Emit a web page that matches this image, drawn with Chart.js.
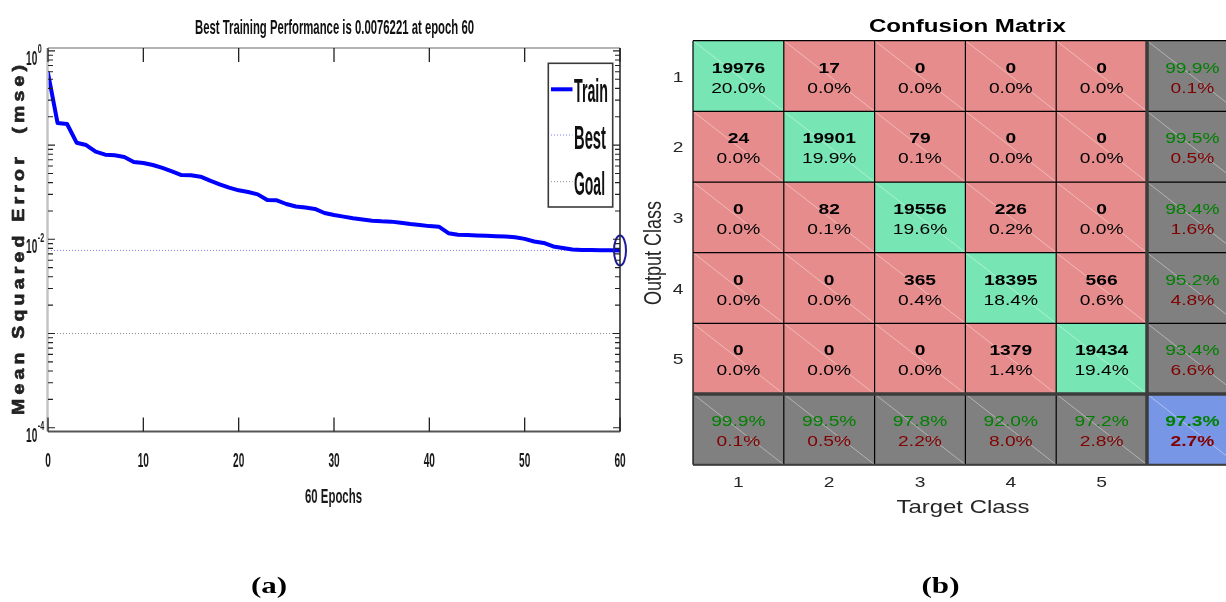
<!DOCTYPE html>
<html>
<head>
<meta charset="utf-8">
<script src="https://cdn.jsdelivr.net/npm/chart.js@4.4.0/dist/chart.umd.min.js"></script>
<style>
  html, body { margin: 0; padding: 0; background: #fff; overflow: hidden; width: 1226px; height: 602px; }
  #perf { position: absolute; left: 0; top: 0; }
  #conf { position: absolute; left: 630px; top: 0; }
</style>
</head>
<body>
<canvas id="perf" width="640" height="602"></canvas>
<canvas id="conf" width="620" height="602"></canvas>
<script>
// ---------- (a) training record ----------
const epochs = [0,1,2,3,4,5,6,7,8,9,10,11,12,13,14,15,16,17,18,19,20,21,22,23,24,25,26,27,28,29,
                30,31,32,33,34,35,36,37,38,39,40,41,42,43,44,45,46,47,48,49,50,51,52,53,54,55,56,57,58,59,60];
const trainMSE = [0.582, 0.1717, 0.1675, 0.106, 0.1002, 0.0851, 0.0791, 0.0779, 0.0748, 0.0662,
                  0.0646, 0.0615, 0.0572, 0.0527, 0.0481, 0.0478, 0.0462, 0.0419, 0.0384, 0.0353,
                  0.0331, 0.0318, 0.0300, 0.0261, 0.0259, 0.0237, 0.0223, 0.0218, 0.0210, 0.0190,
                  0.0181, 0.0174, 0.0167, 0.0162, 0.0157, 0.0155, 0.0154, 0.0150, 0.0145, 0.0142,
                  0.0138, 0.0136, 0.0116, 0.0112, 0.0111, 0.0110, 0.0109, 0.0108, 0.0107, 0.0105,
                  0.0101, 0.00948, 0.00914, 0.00839, 0.00809, 0.00780, 0.00772, 0.00768, 0.00765, 0.00763,
                  0.0076221];
const bestMSE = 0.0076221;
const bestEpoch = 60;
const goalMSE = 0.001;
const epochTicks = [0, 10, 20, 30, 40, 50, 60];
const labelledDecades = [0, -2, -4];
const legendNames = ['Train', 'Best', 'Goal'];

// ---------- (b) confusion matrix ----------
const targetClasses = ['1', '2', '3', '4', '5'];
const outputClasses = ['1', '2', '3', '4', '5'];
const counts = [
  [19976,    17,     0,     0,     0],
  [   24, 19901,    79,     0,     0],
  [    0,    82, 19556,   226,     0],
  [    0,     0,   365, 18395,   566],
  [    0,     0,     0,  1379, 19434]
];

// ---------- shared text helper ----------
function txt(ctx, s, x, y, o) {
  ctx.save();
  ctx.translate(x, y);
  if (o.rot) ctx.rotate(o.rot);
  ctx.font = o.font;
  let sx = o.sx || 1;
  if (o.width) sx = o.width / ctx.measureText(s).width;
  ctx.scale(sx, o.sy || 1);
  ctx.fillStyle = o.color || '#000';
  ctx.textAlign = o.align || 'center';
  ctx.textBaseline = 'alphabetic';
  ctx.fillText(s, 0, 0);
  ctx.restore();
}

// text spread evenly along a given length, one glyph at a time
function spreadText(ctx, s, x, y, len, o) {
  ctx.save();
  ctx.translate(x, y);
  if (o.rot) ctx.rotate(o.rot);
  ctx.font = o.font;
  ctx.fillStyle = o.color || '#000';
  ctx.strokeStyle = o.color || '#000';
  ctx.lineWidth = o.thick || 0;
  ctx.lineJoin = 'round';
  ctx.textAlign = 'left';
  ctx.textBaseline = 'alphabetic';
  const k = o.k || 1;
  const ws = [...s].map(c => ctx.measureText(c).width * k);
  const total = ws.reduce((p, q) => p + q, 0);
  const gap = (len - total) / (s.length - 1);
  let pos = -len / 2;
  [...s].forEach((c, i) => {
    ctx.save();
    ctx.translate(pos, 0);
    ctx.scale(k, 1);
    ctx.fillText(c, 0, 0);
    if (o.thick) ctx.strokeText(c, 0, 0);
    ctx.restore();
    pos += ws[i] + gap;
  });
  ctx.restore();
}

const SANS = '"Liberation Sans", Arial, sans-serif';
const SERIF = '"Liberation Serif", "Times New Roman", serif';

// ---------- (a) decorations: frame, ticks, labels, legend ----------
const perfDecor = {
  id: 'perfDecor',
  afterDraw(chart) {
    const { ctx, chartArea: a, scales: { x, y } } = chart;
    ctx.save();

    // best-epoch marker
    ctx.strokeStyle = '#1c1c9c';
    ctx.lineWidth = 2;
    ctx.beginPath();
    ctx.ellipse(x.getPixelForValue(bestEpoch), y.getPixelForValue(bestMSE), 6, 15, 0, 0, Math.PI * 2);
    ctx.stroke();

    // frame
    ctx.lineWidth = 1.5;
    ctx.strokeStyle = '#9a9a9a';
    ctx.beginPath(); ctx.moveTo(a.left, a.top); ctx.lineTo(a.right, a.top); ctx.stroke();
    ctx.strokeStyle = '#c4c4c4'; ctx.lineWidth = 2.5;
    ctx.beginPath(); ctx.moveTo(a.left - 0.5, a.top); ctx.lineTo(a.left - 0.5, a.bottom); ctx.stroke();
    ctx.strokeStyle = '#222'; ctx.lineWidth = 1.5;
    ctx.beginPath(); ctx.moveTo(a.right, a.top); ctx.lineTo(a.right, a.bottom); ctx.stroke();
    ctx.strokeStyle = '#555'; ctx.lineWidth = 2;
    ctx.beginPath(); ctx.moveTo(a.left, a.bottom); ctx.lineTo(a.right, a.bottom); ctx.stroke();

    // x ticks (inward, top and bottom) and labels
    ctx.strokeStyle = '#222'; ctx.lineWidth = 1.3;
    epochTicks.forEach(t => {
      const px = x.getPixelForValue(t);
      ctx.beginPath();
      ctx.moveTo(px, a.bottom); ctx.lineTo(px, a.bottom - 14);
      ctx.moveTo(px, a.top); ctx.lineTo(px, a.top + 14);
      ctx.stroke();
      txt(ctx, String(t), px, 466.5, { font: 'bold 21px ' + SANS, sx: 0.48, color: '#1a1a1a' });
    });

    // y ticks: minor at n*10^k, major at decades
    ctx.lineWidth = 1.1;
    for (let k = -4; k <= 0; k++) {
      for (let m = 1; m <= 9; m++) {
        const v = m * Math.pow(10, k);
        if (v < y.min || v > y.max) continue;
        const py = y.getPixelForValue(v);
        const len = m === 1 ? 7 : 5;
        ctx.beginPath();
        ctx.moveTo(a.left, py); ctx.lineTo(a.left + len, py);
        ctx.moveTo(a.right, py); ctx.lineTo(a.right - len, py);
        ctx.stroke();
      }
    }
    labelledDecades.forEach(k => {
      const py = y.getPixelForValue(Math.pow(10, k));
      txt(ctx, '10', 37.3, py + 14, { font: 'bold 21px ' + SANS, sx: 0.48, color: '#1a1a1a', align: 'right' });
      txt(ctx, String(k), 37.8, py + 2.5, { font: 'bold 13px ' + SANS, sx: 0.55, color: '#1a1a1a', align: 'left' });
    });

    // axis titles
    txt(ctx, `Best Training Performance is ${bestMSE} at epoch ${bestEpoch}`, (a.left + a.right) / 2 + 0.5, 34.3,
        { font: 'bold 21px ' + SANS, width: 279, color: '#111' });
    txt(ctx, `${epochs.length - 1} Epochs`, (a.left + a.right) / 2 - 0.5, 503.3,
        { font: 'bold 21px ' + SANS, width: 57, color: '#1a1a1a' });
    spreadText(ctx, 'Mean Squared Error  (mse)', 23.5, 240, 350,
        { font: 'bold 16.5px ' + SANS, rot: -Math.PI / 2, k: 1.18, thick: 0.7, color: '#222' });

    // legend
    const L = { x: 548.3, y: 63.3, w: 64.4, h: 143.7 };
    ctx.fillStyle = '#fff';
    ctx.fillRect(L.x, L.y, L.w, L.h);
    ctx.strokeStyle = '#3a3a3a'; ctx.lineWidth = 1.6;
    ctx.strokeRect(L.x, L.y, L.w, L.h);
    const rows = [
      { y: 89.3, base: 101.7, color: '#0000ff', lw: 4, dash: [], w: 34 },
      { y: 135, base: 149, color: '#7a7aff', lw: 1, dash: [1, 2], w: 32 },
      { y: 181.7, base: 195, color: '#8a8a8a', lw: 1, dash: [1, 2], w: 31 }
    ];
    rows.forEach((r, i) => {
      ctx.save();
      ctx.strokeStyle = r.color; ctx.lineWidth = r.lw; ctx.setLineDash(r.dash);
      ctx.beginPath(); ctx.moveTo(551, r.y); ctx.lineTo(572.5, r.y); ctx.stroke();
      ctx.restore();
      txt(ctx, legendNames[i], 574 + r.w / 2, r.base, { font: 'bold 33px ' + SANS, width: r.w, color: '#111' });
    });

    // panel tag
    txt(ctx, '(a)', 269, 593, { font: 'bold 23px ' + SERIF, sx: 1.35, color: '#000' });
    ctx.restore();
  }
};

new Chart(document.getElementById('perf'), {
  type: 'line',
  data: {
    datasets: [
      {
        label: legendNames[0],
        data: epochs.map((e, i) => ({ x: e, y: trainMSE[i] })),
        borderColor: '#0000ff', borderWidth: 4, pointRadius: 0,
        borderCapStyle: 'round', borderJoinStyle: 'round', tension: 0
      },
      {
        label: legendNames[1],
        data: [{ x: epochs[0], y: bestMSE }, { x: epochs[epochs.length - 1], y: bestMSE }],
        borderColor: '#7a7aff', borderWidth: 1, borderDash: [1, 2], pointRadius: 0
      },
      {
        label: legendNames[2],
        data: [{ x: epochs[0], y: goalMSE }, { x: epochs[epochs.length - 1], y: goalMSE }],
        borderColor: '#8a8a8a', borderWidth: 1, borderDash: [1, 2], pointRadius: 0
      }
    ]
  },
  options: {
    responsive: false,
    animation: false,
    events: [],
    layout: { padding: { left: 48, right: 20, top: 48, bottom: 170.5 } },
    plugins: { legend: { display: false }, tooltip: { enabled: false }, title: { display: false } },
    scales: {
      x: { type: 'linear', min: 0, max: 60, display: false },
      y: { type: 'logarithmic', min: 9.11e-5, max: 1.0735, display: false }
    }
  },
  plugins: [perfDecor]
});

// ---------- (b) confusion matrix chart ----------
const nC = targetClasses.length;
const total = counts.flat().reduce((p, q) => p + q, 0);
const rowSums = counts.map(r => r.reduce((p, q) => p + q, 0));
const colSums = targetClasses.map((_, c) => counts.reduce((p, r) => p + r[c], 0));
const correct = counts.reduce((p, r, i) => p + r[i], 0);

const GREEN = '#78E6B4', RED = '#E68C8C', GRAY = '#808080', BLUE = '#7896E6';
function cellColor(r, c) {
  if (r < nC && c < nC) return r === c ? GREEN : RED;
  if (r === nC && c === nC) return BLUE;
  return GRAY;
}

// one stacked bar segment per cell; each dataset is one output-class row (plus the summary row)
const confDatasets = [];
for (let r = 0; r <= nC; r++) {
  const colors = [];
  for (let c = 0; c <= nC; c++) colors.push(cellColor(r, c));
  confDatasets.push({
    label: r < nC ? outputClasses[r] : 'summary',
    data: new Array(nC + 1).fill(1),
    backgroundColor: colors,
    borderWidth: 0,
    barPercentage: 1,
    categoryPercentage: 1
  });
}

const pct = v => (100 * v).toFixed(1) + '%';

const confDecor = {
  id: 'confDecor',
  afterDatasetsDraw(chart) {
    const { ctx, chartArea: a, scales: { x, y } } = chart;
    const step = x.getPixelForValue(1) - x.getPixelForValue(0);
    const colL = c => x.getPixelForValue(c) - step / 2;
    const rowT = r => y.getPixelForValue(r);
    ctx.save();

    // faint diagonal in each cell
    ctx.strokeStyle = 'rgba(255,255,255,0.5)'; ctx.lineWidth = 0.8;
    for (let r = 0; r <= nC; r++) for (let c = 0; c <= nC; c++) {
      ctx.beginPath();
      ctx.moveTo(colL(c), rowT(r)); ctx.lineTo(colL(c + 1), rowT(r + 1));
      ctx.stroke();
    }

    // thin grid
    ctx.strokeStyle = '#000'; ctx.lineWidth = 1.2;
    for (let c = 0; c <= nC + 1; c++) {
      const px = colL(c);
      ctx.beginPath(); ctx.moveTo(px, a.top); ctx.lineTo(px, a.bottom); ctx.stroke();
    }
    for (let r = 0; r <= nC + 1; r++) {
      const py = rowT(r);
      ctx.beginPath(); ctx.moveTo(a.left, py); ctx.lineTo(a.right, py); ctx.stroke();
    }
    // heavy separators around the summary row/column
    ctx.strokeStyle = '#3c3c3c'; ctx.lineWidth = 3.5;
    ctx.beginPath(); ctx.moveTo(colL(nC), a.top); ctx.lineTo(colL(nC), a.bottom); ctx.stroke();
    ctx.beginPath(); ctx.moveTo(a.left, rowT(nC)); ctx.lineTo(a.right, rowT(nC)); ctx.stroke();
    ctx.strokeStyle = '#3c3c3c'; ctx.lineWidth = 2;
    ctx.beginPath(); ctx.moveTo(a.left, rowT(nC + 1)); ctx.lineTo(a.right, rowT(nC + 1)); ctx.stroke();

    // cell texts
    const SX = 1.28;
    const bold = 'bold 15px ' + SANS, reg = '15px ' + SANS;
    for (let r = 0; r <= nC; r++) {
      const cy = (rowT(r) + rowT(r + 1)) / 2;
      for (let c = 0; c <= nC; c++) {
        const cx = x.getPixelForValue(c);
        let t1, t2, f1 = reg, f2 = reg, c1 = '#000', c2 = '#000';
        if (r < nC && c < nC) {
          t1 = String(counts[r][c]); t2 = pct(counts[r][c] / total); f1 = bold;
        } else {
          let ok;
          if (r < nC) ok = counts[r][r] / rowSums[r];
          else if (c < nC) ok = counts[c][c] / colSums[c];
          else { ok = correct / total; f1 = bold; f2 = bold; }
          t1 = pct(ok); t2 = pct(1 - ok); c1 = '#008000'; c2 = '#800000';
        }
        txt(ctx, t1, cx, cy - 3.3, { font: f1, sx: SX, color: c1 });
        txt(ctx, t2, cx, cy + 16.7, { font: f2, sx: SX, color: c2 });
      }
    }

    // class ticks
    outputClasses.forEach((s, r) => {
      const cy = (rowT(r) + rowT(r + 1)) / 2;
      txt(ctx, s, 48, cy + 5.5, { font: '15px ' + SANS, sx: SX, color: '#262626' });
    });
    targetClasses.forEach((s, c) => {
      txt(ctx, s, x.getPixelForValue(c), 487, { font: '15px ' + SANS, sx: SX, color: '#262626' });
    });

    // titles
    txt(ctx, 'Confusion Matrix', (a.left + a.right) / 2 + 2, 32.3, { font: 'bold 18px ' + SANS, width: 197, color: '#000' });
    txt(ctx, 'Target Class', 333, 513, { font: '18.5px ' + SANS, width: 133, color: '#262626' });
    txt(ctx, 'Output Class', 31, 253, { font: '18px ' + SANS, rot: -Math.PI / 2, sy: 1.28, color: '#262626' });
    txt(ctx, '(b)', 310.5, 593, { font: 'bold 23px ' + SERIF, sx: 1.35, color: '#000' });
    ctx.restore();
  }
};

new Chart(document.getElementById('conf'), {
  type: 'bar',
  data: { labels: [...targetClasses, ''], datasets: confDatasets },
  options: {
    responsive: false,
    animation: false,
    events: [],
    layout: { padding: { left: 63, right: 12.2, top: 40.7, bottom: 137.3 } },
    plugins: { legend: { display: false }, tooltip: { enabled: false } },
    scales: {
      x: { stacked: true, display: false, offset: true },
      y: { stacked: true, display: false, min: 0, max: nC + 1, reverse: true }
    }
  },
  plugins: [confDecor]
});
</script>
</body>
</html>
